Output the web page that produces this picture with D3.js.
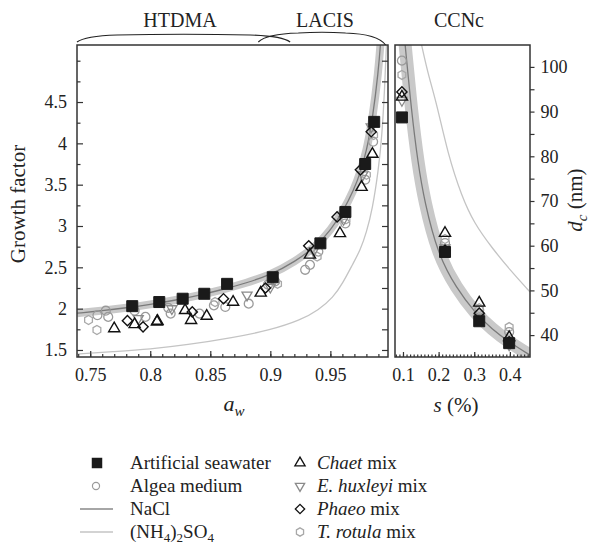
<!DOCTYPE html>
<html>
<head>
<meta charset="utf-8">
<script src="https://cdn.jsdelivr.net/npm/d3@7/dist/d3.min.js"></script>
<style>
  body { margin: 0; background: #fff; }
  svg text { font-family: 'Liberation Serif', 'Times New Roman', serif !important; fill: #222; }
</style>
</head>
<body>
<script>
// left panel: growth factor vs water activity (HTDMA / LACIS)
let seaAw = [0.785, 0.8075, 0.827, 0.845, 0.864, 0.902, 0.9417, 0.9625, 0.979, 0.9865];
let seaGf = [2.03, 2.08, 2.12, 2.18, 2.30, 2.38, 2.79, 3.17, 3.75, 4.26];
let algAw = [0.756, 0.763, 0.765, 0.787, 0.796, 0.815, 0.817, 0.841, 0.853, 0.8625, 0.882, 0.898, 0.904, 0.929, 0.933, 0.94, 0.9625, 0.979, 0.9856];
let algGf = [1.92, 1.975, 1.90, 1.975, 1.90, 2.01, 1.94, 1.94, 2.04, 2.02, 2.06, 2.29, 2.33, 2.47, 2.53, 2.69, 3.03, 3.56, 4.02];
let chaAw = [0.77, 0.787, 0.8056, 0.806, 0.829, 0.834, 0.847, 0.869, 0.892, 0.933, 0.958, 0.976, 0.985];
let chaGf = [1.76, 1.81, 1.84, 1.85, 1.98, 1.86, 1.91, 2.08, 2.19, 2.65, 2.91, 3.47, 3.87];
let ehuAw = [0.79, 0.818, 0.8806, 0.9, 0.936, 0.961, 0.977, 0.984];
let ehuGf = [1.88, 2.0, 2.165, 2.26, 2.70, 3.08, 3.62, 4.2];
let phaAw = [0.781, 0.794, 0.835, 0.861, 0.896, 0.932, 0.9556, 0.975, 0.984];
let phaGf = [1.855, 1.78, 1.96, 2.12, 2.25, 2.76, 3.11, 3.68, 4.14];
let troAw = [0.7486, 0.7556, 0.854, 0.906, 0.939, 0.963, 0.98, 0.986];
let troGf = [1.863, 1.742, 2.08, 2.30, 2.63, 3.08, 3.62, 4.10];

// model curves, left panel
let naclAw = [0.739, 0.76, 0.78, 0.80, 0.82, 0.84, 0.86, 0.88, 0.90, 0.92, 0.94, 0.95, 0.96, 0.97, 0.975, 0.98, 0.985, 0.99, 0.992];
let naclGf = [1.945, 1.975, 2.01, 2.05, 2.10, 2.16, 2.23, 2.31, 2.41, 2.56, 2.78, 2.95, 3.16, 3.45, 3.65, 3.9, 4.28, 4.87, 5.25];
let amsAw = [0.739, 0.77, 0.80, 0.83, 0.869, 0.90, 0.925, 0.94, 0.9525, 0.96, 0.969, 0.975, 0.98, 0.985, 0.99, 0.993, 0.995, 0.9967];
let amsGf = [1.45, 1.48, 1.51, 1.56, 1.65, 1.74, 1.86, 1.98, 2.14, 2.3, 2.55, 2.71, 2.92, 3.2, 3.67, 4.1, 4.6, 5.2];

// right panel: critical diameter vs supersaturation (CCNc)
let ccnS = [0.097, 0.218, 0.314, 0.398];
let seaDc = [88.7, 58.6, 43.1, 38.2];
let algDc = [101.4, 60.6, 45.6, 40.7];
let chaDc = [93.3, 62.8, 47.2, 39.5];
let ehuDc = [92.5, 59.5, 44.0, 37.8];
let phaDc = [94.4, 59.0, 44.9, 38.5];
let troDc = [98.2, 61.5, 46.0, 41.8];

let naclS = [0.106, 0.124, 0.142, 0.16, 0.198, 0.25, 0.302, 0.35, 0.40, 0.457];
let naclDc = [105, 90, 78.5, 70, 58, 50.5, 45, 41.3, 38.3, 35.5];
let amsS = [0.152, 0.17, 0.194, 0.226, 0.265, 0.30, 0.35, 0.40, 0.457];
let amsDc = [105, 98.5, 92, 80.5, 71, 65, 59.5, 54.6, 49.6];

// tick values
let gfTicks = [1.5, 2, 2.5, 3, 3.5, 4, 4.5];
let gfMinor = [1.75, 2.25, 2.75, 3.25, 3.75, 4.25, 4.75, 5];
let awTicks = [0.75, 0.8, 0.85, 0.9, 0.95];
let awMinor = d3.range(74, 100).map(d => d / 100);
let sTicks = [0.1, 0.2, 0.3, 0.4];
let sMinor = d3.range(8, 46).map(d => d / 100);
let dcTicks = [40, 50, 60, 70, 80, 90, 100];
let dcMinor = [45, 55, 65, 75, 85, 95];

const FONT = "'Liberation Serif', 'Times New Roman', serif";

let svg = d3.select('body').append('svg')
  .attr('width', 590)
  .attr('height', 548)
  .style('font-family', FONT);

let xL = d3.scaleLinear().domain([0.739, 0.998]).range([77, 388]);
let yL = d3.scaleLinear().domain([1.415, 5.19]).range([357, 45]);
let xR = d3.scaleLinear().domain([0.0776, 0.4565]).range([395, 530]);
let yR = d3.scaleLinear().domain([35.1, 104.9]).range([357, 45]);

let defs = svg.append('defs');
defs.append('clipPath').attr('id', 'clipL').append('rect')
  .attr('x', 77).attr('y', 45).attr('width', 311).attr('height', 312);
defs.append('clipPath').attr('id', 'clipR').append('rect')
  .attr('x', 395).attr('y', 45).attr('width', 135).attr('height', 312);

// hexagon symbol
const symbolHex = {
  draw(ctx, size) {
    const r = Math.sqrt(size * 2 / (3 * Math.sqrt(3)));
    for (let i = 0; i < 6; i++) {
      const a = Math.PI / 3 * i - Math.PI / 2;
      if (i) ctx.lineTo(r * Math.cos(a), r * Math.sin(a));
      else ctx.moveTo(r * Math.cos(a), r * Math.sin(a));
    }
    ctx.closePath();
  }
};

// series styles (drawing order: gray first, squares last)
let series = [
  { aw: algAw, gf: algGf, dc: algDc, type: d3.symbolCircle, size: 62, rot: 0, fill: 'none', stroke: '#9a9a9a', sw: 1.3 },
  { aw: troAw, gf: troGf, dc: troDc, type: symbolHex, size: 52, rot: 0, fill: 'none', stroke: '#a8a8a8', sw: 1.3 },
  { aw: ehuAw, gf: ehuGf, dc: ehuDc, type: d3.symbolTriangle, size: 44, rot: 180, fill: 'none', stroke: '#8a8a8a', sw: 1.3 },
  { aw: chaAw, gf: chaGf, dc: chaDc, type: d3.symbolTriangle, size: 54, rot: 0, fill: 'none', stroke: '#111', sw: 1.4 },
  { aw: phaAw, gf: phaGf, dc: phaDc, type: d3.symbolSquare, size: 52, rot: 45, fill: 'none', stroke: '#111', sw: 1.4 },
  { aw: seaAw, gf: seaGf, dc: seaDc, type: d3.symbolSquare, size: 121, rot: 0, fill: '#1a1a1a', stroke: '#1a1a1a', sw: 1 }
];

function drawCurve(g, xs, ys, x, y, color, width) {
  let line = d3.line().x(d => x(d[0])).y(d => y(d[1])).curve(d3.curveBasis);
  g.append('path')
    .datum(d3.zip(xs, ys))
    .attr('d', line)
    .attr('fill', 'none')
    .attr('stroke', color)
    .attr('stroke-width', width)
    .attr('stroke-linejoin', 'round');
}

/** left panel curves */
let gL = svg.append('g').attr('clip-path', 'url(#clipL)');
drawCurve(gL, naclAw, naclGf, xL, yL, '#c9c9c9', 8);
drawCurve(gL, naclAw, naclGf, xL, yL, '#7a7a7a', 1.3);
drawCurve(gL, amsAw, amsGf, xL, yL, '#c4c4c4', 1.3);

/** right panel curves */
let gR = svg.append('g').attr('clip-path', 'url(#clipR)');
drawCurve(gR, naclS, naclDc, xR, yR, '#c9c9c9', 13);
drawCurve(gR, naclS, naclDc, xR, yR, '#7a7a7a', 1.3);
drawCurve(gR, amsS, amsDc, xR, yR, '#c4c4c4', 1.3);

/** symbols */
series.forEach(s => {
  let sym = d3.symbol().type(s.type).size(s.size);
  gL.selectAll(null)
    .data(d3.zip(s.aw, s.gf))
    .enter().append('path')
    .attr('d', sym)
    .attr('transform', d => `translate(${xL(d[0])},${yL(d[1])}) rotate(${s.rot})`)
    .attr('fill', s.fill)
    .attr('stroke', s.stroke)
    .attr('stroke-width', s.sw);
  gR.selectAll(null)
    .data(d3.zip(ccnS, s.dc))
    .enter().append('path')
    .attr('d', sym)
    .attr('transform', d => `translate(${xR(d[0])},${yR(d[1])}) rotate(${s.rot})`)
    .attr('fill', s.fill)
    .attr('stroke', s.stroke)
    .attr('stroke-width', s.sw);
});

/** axes */
function styleAxis(g, size) {
  g.select('.domain').remove();
  g.selectAll('line').attr('stroke', '#333').attr('stroke-width', 1.2);
  g.attr('font-family', FONT).attr('font-size', size);
  g.selectAll('text').attr('fill', '#222').style('font-family', FONT);
}
let fmt = d => String(d);

svg.append('g').attr('transform', 'translate(77,0)')
  .call(d3.axisLeft(yL).tickValues(gfTicks).tickSize(-6).tickPadding(10).tickFormat(fmt))
  .call(g => styleAxis(g, 18));
svg.append('g').attr('transform', 'translate(77,0)')
  .call(d3.axisLeft(yL).tickValues(gfMinor).tickSize(-3.5).tickFormat(''))
  .call(g => styleAxis(g, 18));
svg.append('g').attr('transform', 'translate(388,0)')
  .call(d3.axisRight(yL).tickValues(gfTicks.concat(gfMinor)).tickSize(-6).tickFormat(''))
  .call(g => styleAxis(g, 18));
svg.append('g').attr('transform', 'translate(0,357)')
  .call(d3.axisBottom(xL).tickValues(awTicks).tickSize(-6).tickPadding(11).tickFormat(fmt))
  .call(g => styleAxis(g, 18));
svg.append('g').attr('transform', 'translate(0,357)')
  .call(d3.axisBottom(xL).tickValues(awMinor).tickSize(-3).tickFormat(''))
  .call(g => styleAxis(g, 18));

svg.append('g').attr('transform', 'translate(0,357)')
  .call(d3.axisBottom(xR).tickValues(sTicks).tickSize(-5).tickPadding(11).tickFormat(fmt))
  .call(g => styleAxis(g, 18));
svg.append('g').attr('transform', 'translate(0,357)')
  .call(d3.axisBottom(xR).tickValues(sMinor).tickSize(-2.5).tickFormat(''))
  .call(g => styleAxis(g, 18));
svg.append('g').attr('transform', 'translate(530,0)')
  .call(d3.axisRight(yR).tickValues(dcTicks).tickSize(4.5).tickPadding(6).tickFormat(fmt))
  .call(g => styleAxis(g, 18));
svg.append('g').attr('transform', 'translate(530,0)')
  .call(d3.axisRight(yR).tickValues(dcMinor).tickSize(4.5).tickFormat(''))
  .call(g => styleAxis(g, 18));

/** frames */
svg.append('rect').attr('x', 77).attr('y', 45).attr('width', 311).attr('height', 312)
  .attr('fill', 'none').attr('stroke', '#333').attr('stroke-width', 1.5);
svg.append('rect').attr('x', 395).attr('y', 45).attr('width', 135).attr('height', 312)
  .attr('fill', 'none').attr('stroke', '#333').attr('stroke-width', 1.5);

/** braces and instrument labels */
function brace(x0, x1, y0, y1, yTop) {
  let m = (x0 + x1) / 2;
  return `M${x0},${y0} Q${x0 + 8},${yTop + 1.5} ${x0 + 40},${yTop + 0.5} Q${m},${yTop - 1} ${x1 - 40},${yTop + 0.5} Q${x1 - 8},${yTop + 1.5} ${x1},${y1}`;
}
svg.append('path').attr('d', brace(xL(0.739), xL(0.9165), 42, 42, 34.5))
  .attr('fill', 'none').attr('stroke', '#222').attr('stroke-width', 1.2);
svg.append('path').attr('d', brace(xL(0.890), xL(0.996), 42, 45, 32.5))
  .attr('fill', 'none').attr('stroke', '#222').attr('stroke-width', 1.2);

let titles = [['HTDMA', 180], ['LACIS', 325], ['CCNc', 459]];
svg.selectAll('.ttl').data(titles).enter().append('text')
  .attr('x', d => d[1]).attr('y', 27)
  .attr('text-anchor', 'middle').attr('font-size', 20)
  .text(d => d[0]);

/** axis titles */
svg.append('text')
  .attr('transform', 'translate(25,204) rotate(-90)')
  .attr('text-anchor', 'middle').attr('font-size', 21)
  .text('Growth factor');

let awT = svg.append('text').attr('x', 234).attr('y', 411)
  .attr('text-anchor', 'middle').attr('font-size', 22);
awT.append('tspan').attr('font-style', 'italic').text('a');
awT.append('tspan').attr('font-style', 'italic').attr('font-size', 15).attr('dy', 5).text('w');

let sT = svg.append('text').attr('x', 456).attr('y', 412)
  .attr('text-anchor', 'middle').attr('font-size', 21);
sT.append('tspan').attr('font-style', 'italic').text('s');
sT.append('tspan').text(' (%)');

let dcT = svg.append('text')
  .attr('transform', 'translate(582,200) rotate(-90)')
  .attr('text-anchor', 'middle').attr('font-size', 21);
dcT.append('tspan').attr('font-style', 'italic').text('d');
dcT.append('tspan').attr('font-style', 'italic').attr('font-size', 15).attr('dy', 5).text('c');
dcT.append('tspan').attr('dy', -5).text(' (nm)');

/** legend */
let rowY = [463, 486, 509, 532];
let lg = svg.append('g').attr('font-size', 19);

lg.append('path').attr('d', d3.symbol().type(d3.symbolSquare).size(110)())
  .attr('transform', `translate(97,${rowY[0]})`).attr('fill', '#1a1a1a');
lg.append('path').attr('d', d3.symbol().type(d3.symbolCircle).size(40)())
  .attr('transform', `translate(96,${rowY[1]})`).attr('fill', 'none').attr('stroke', '#9a9a9a').attr('stroke-width', 1.2);
lg.append('line').attr('x1', 80).attr('x2', 113).attr('y1', rowY[2]).attr('y2', rowY[2])
  .attr('stroke', '#888').attr('stroke-width', 1.3);
lg.append('line').attr('x1', 80).attr('x2', 113).attr('y1', rowY[3]).attr('y2', rowY[3])
  .attr('stroke', '#c4c4c4').attr('stroke-width', 1.3);

lg.append('text').attr('x', 130).attr('y', rowY[0] + 6).text('Artificial seawater');
lg.append('text').attr('x', 130).attr('y', rowY[1] + 6).text('Algea medium');
lg.append('text').attr('x', 130).attr('y', rowY[2] + 6).text('NaCl');
let amsL = lg.append('text').attr('x', 130).attr('y', rowY[3] + 6);
amsL.append('tspan').text('(NH');
amsL.append('tspan').attr('font-size', 13).attr('dy', 4).text('4');
amsL.append('tspan').attr('dy', -4).text(')');
amsL.append('tspan').attr('font-size', 13).attr('dy', 4).text('2');
amsL.append('tspan').attr('dy', -4).text('SO');
amsL.append('tspan').attr('font-size', 13).attr('dy', 4).text('4');

let legendMix = ['Chaet', 'E. huxleyi', 'Phaeo', 'T. rotula'];
let legendSym = [series[3], series[2], series[4], series[1]];
legendMix.forEach((name, i) => {
  let s = legendSym[i];
  lg.append('path').attr('d', d3.symbol().type(s.type).size(s.size * 0.85)())
    .attr('transform', `translate(300,${rowY[i]}) rotate(${s.rot})`)
    .attr('fill', 'none').attr('stroke', s.stroke).attr('stroke-width', 1.3);
  let t = lg.append('text').attr('x', 317).attr('y', rowY[i] + 6);
  t.append('tspan').attr('font-style', 'italic').text(name);
  t.append('tspan').text(' mix');
});
</script>
</body>
</html>
